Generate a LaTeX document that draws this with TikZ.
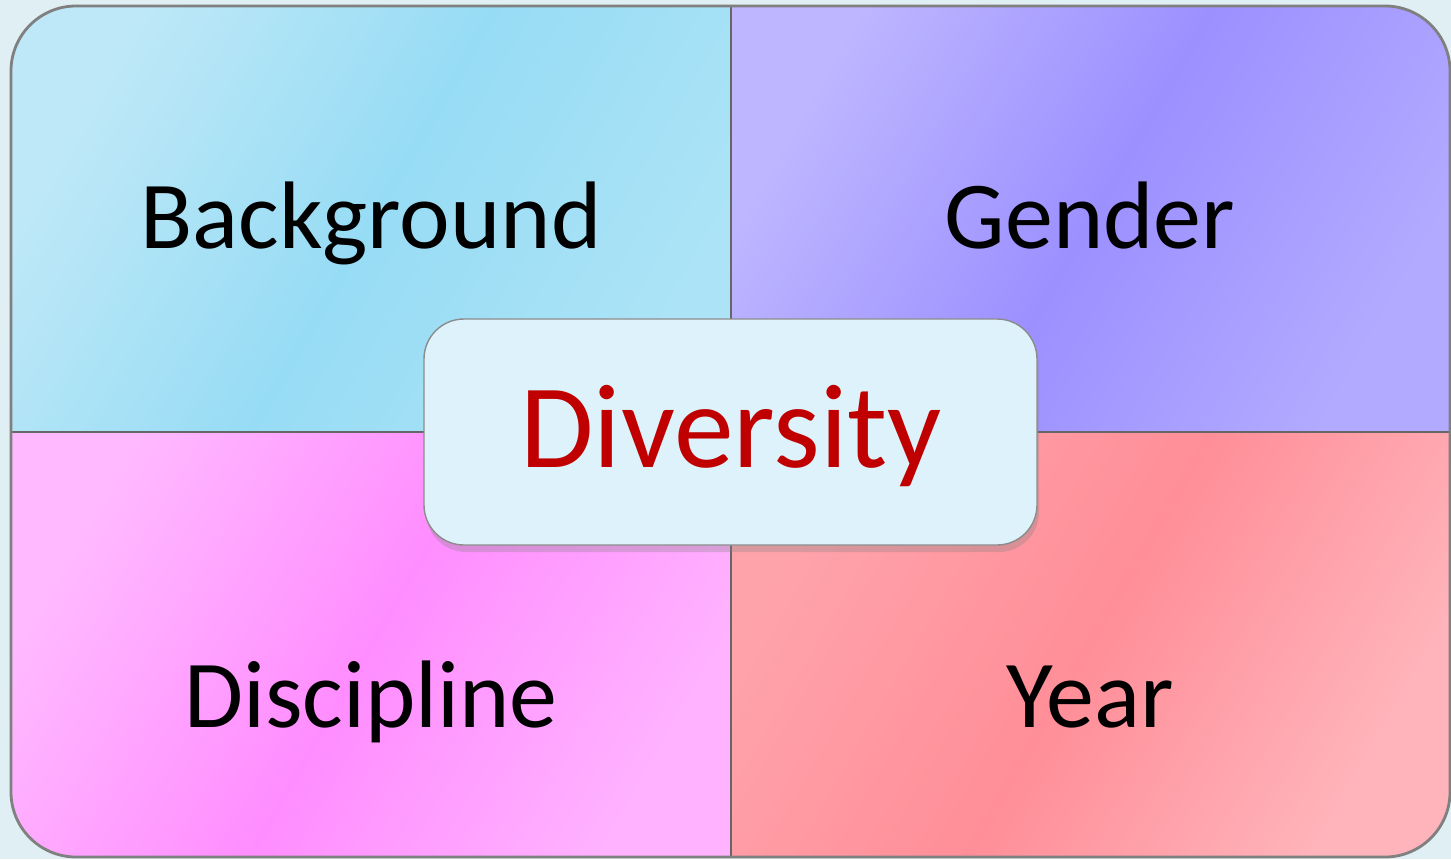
\documentclass[tikz,border=0pt]{standalone}
\usepackage{fontspec}
\setmainfont{Carlito}
\usetikzlibrary{shadows}

\definecolor{pagebg}{HTML}{DFEFF3}
\definecolor{bgA}{HTML}{BEE8F7}
\definecolor{bgB}{HTML}{97DCF5}
\definecolor{bgC}{HTML}{ACE3F6}
\definecolor{gnA}{HTML}{BEB6FF}
\definecolor{gnB}{HTML}{9C90FF}
\definecolor{gnC}{HTML}{B2AAFF}
\definecolor{dsA}{HTML}{FFB9FF}
\definecolor{dsB}{HTML}{FF8DFF}
\definecolor{dsC}{HTML}{FFB2FF}
\definecolor{yrA}{HTML}{FFA3AB}
\definecolor{yrB}{HTML}{FF8E98}
\definecolor{yrC}{HTML}{FFB4BB}
\definecolor{hubfill}{HTML}{DDF2FA}
\definecolor{hubred}{HTML}{C00000}

\tikzset{
  label/.style={anchor=base, text=black, font=\fontsize{27.3}{32}\selectfont},
  hub/.style={draw=black!45, fill=hubfill, rounded corners=0.4cm,
    minimum width=6.13cm, minimum height=2.26cm, inner sep=0pt,
    drop shadow={shadow xshift=0.02cm, shadow yshift=-0.07cm, opacity=0.3}},
}

\begin{document}
\begin{tikzpicture}
   \useasboundingbox (0,0) rectangle (14.51,8.59);
   \fill[pagebg] (0,0) rectangle (14.51,8.59);

   % four quarters inside the rounded frame
   \begin{scope}
   \clip[rounded corners=0.65cm] (0.11,0.02) rectangle (14.50,8.53);
   \shade[left color=bgA, right color=bgC, middle color=bgB, shading angle=60] (0.11,4.27) rectangle (7.31,8.53);
   \shade[left color=gnA, right color=gnC, middle color=gnB, shading angle=60] (7.31,4.27) rectangle (14.50,8.53);
   \shade[left color=dsA, right color=dsC, middle color=dsB, shading angle=60] (0.11,0.02) rectangle (7.31,4.27);
   \shade[left color=yrA, right color=yrC, middle color=yrB, shading angle=60] (7.31,0.02) rectangle (14.50,4.27);
   \end{scope}
   \draw[black!60, line width=0.6pt] (7.31,0.02) -- (7.31,8.53);
   \draw[black!60, line width=0.6pt] (0.11,4.27) -- (14.50,4.27);
   \draw[black!50, line width=0.8pt, rounded corners=0.65cm] (0.11,0.02) rectangle (14.50,8.53);

   \node[label] (background) at (3.71,6.11) {Background};
   \node[label] (gender) at (10.90,6.11) {Gender};
   \node[label] (discipline) at (3.71,1.32) {Discipline};
   \node[label] (year) at (10.90,1.32) {Year};

   \node[hub] (hub) at (7.305,4.27) {};
   \node[anchor=base, text=hubred, font=\fontsize{34}{40}\selectfont] (diversity) at (7.31,3.92) {Diversity};
\end{tikzpicture}
\end{document}
